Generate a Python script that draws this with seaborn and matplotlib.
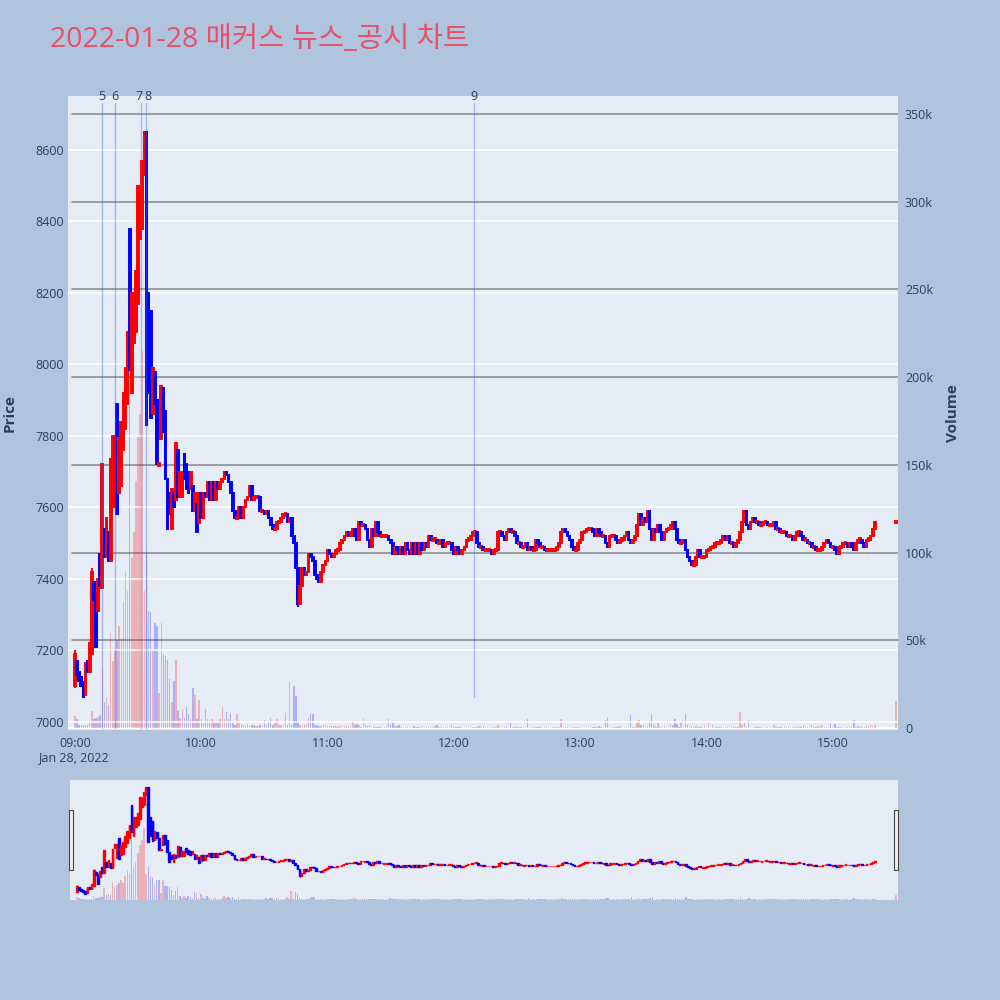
import numpy as np
import pandas as pd
import matplotlib
matplotlib.use("Agg")
import matplotlib.pyplot as plt
import matplotlib.transforms as mtransforms
from matplotlib.patches import Rectangle
import seaborn as sns

# ---- data (1-minute candles, minutes after 09:00) ----
title = "2022-01-28 매커스 뉴스_공시 차트"

early_open = [
    7100, 7170, 7140, 7125, 7110, 7075, 7170, 7140, 7190, 7390,
    7360, 7310, 7470, 7375, 7540, 7460, 7530, 7450, 7740, 7600,
    7890, 7640, 7660, 7760, 7820, 7890, 8380, 7920, 8060, 8090,
    8170, 8350, 8380, 8530, 8650, 8200, 8150, 7860, 7980, 7900,
    7720, 7790, 7935, 7870, 7680, 7640, 7540, 7640, 7620, 7760,
    7630, 7630, 7750, 7720, 7700, 7650, 7660, 7590, 7610, 7555,
]
early_close = [
    7190, 7130, 7115, 7100, 7070, 7165, 7140, 7220, 7420, 7340,
    7210, 7400, 7380, 7720, 7460, 7570, 7450, 7735, 7800, 7800,
    7580, 7795, 7840, 7920, 7990, 8090, 7985, 8200, 8200, 8260,
    8500, 8480, 8570, 8650, 7830, 7920, 7850, 7990, 7890, 7720,
    7720, 7940, 7810, 7680, 7540, 7580, 7650, 7600, 7780, 7630,
    7700, 7700, 7680, 7650, 7640, 7700, 7590, 7640, 7530, 7640,
]
# from 10:00 on, each candle opens at the previous close
late_close = [
    7570, 7640, 7630, 7670, 7620, 7670, 7620, 7670, 7650, 7670,
    7680, 7700, 7690, 7670, 7640, 7590, 7570, 7570, 7600, 7570,
    7600, 7620, 7630, 7660, 7620, 7630, 7630, 7630, 7590, 7590,
    7580, 7590, 7570, 7550, 7540, 7540, 7560, 7560, 7570, 7580,
    7580, 7560, 7570, 7520, 7500, 7430, 7330, 7380, 7430, 7410,
    7420, 7470, 7460, 7450, 7410, 7400, 7390, 7420, 7440, 7450,
    7480, 7470, 7460, 7470, 7480, 7480, 7500, 7510, 7520, 7530,
    7520, 7530, 7540, 7520, 7510, 7560, 7550, 7550, 7540, 7510,
    7490, 7540, 7520, 7560, 7530, 7520, 7520, 7520, 7520, 7510,
    7500, 7470, 7490, 7480, 7470, 7490, 7470, 7500, 7480, 7470,
    7500, 7470, 7500, 7470,
    7500, 7480, 7500, 7490, 7520, 7510, 7510, 7510, 7500, 7500,
    7510, 7490, 7500, 7500, 7500, 7480, 7470, 7490, 7480, 7470,
    7480, 7490, 7510, 7510, 7520, 7530, 7530, 7500, 7490, 7490,
    7480, 7480, 7480, 7480, 7470, 7480, 7480, 7530, 7530, 7520,
    7510, 7530, 7540, 7530, 7530, 7520, 7500, 7500, 7490, 7490,
    7500, 7480, 7490, 7480, 7480, 7510, 7500, 7490, 7490, 7480,
    7480, 7480, 7480, 7480, 7480, 7490, 7500, 7530, 7540, 7530,
    7520, 7510, 7490, 7480, 7480, 7500, 7510, 7530, 7530, 7540,
    7540, 7540, 7530, 7520, 7540, 7530, 7520, 7520, 7500, 7490,
    7520, 7520, 7520, 7510, 7500, 7510, 7510, 7520, 7530, 7510,
    7500, 7510, 7520, 7550, 7580, 7550, 7570, 7560, 7590, 7540,
    7510, 7540, 7530, 7550,
    7530, 7510, 7530, 7540, 7540, 7550, 7560, 7540, 7510, 7500,
    7500, 7510, 7480, 7460, 7450, 7440, 7440, 7460, 7480, 7460,
    7460, 7460, 7480, 7480, 7490, 7490, 7500, 7500, 7500, 7510,
    7520, 7510, 7520, 7500, 7500, 7490, 7500, 7510, 7530, 7560,
    7590, 7550, 7540, 7560, 7570, 7560, 7560, 7550, 7550, 7560,
    7560, 7550, 7550, 7550, 7560, 7540, 7540, 7530, 7530, 7530,
    7520, 7520, 7520, 7510, 7520, 7530, 7530, 7520, 7510, 7510,
    7500, 7500, 7490, 7490, 7480, 7480, 7480, 7490, 7500, 7510,
    7500, 7490, 7490, 7480, 7470, 7490, 7490, 7500, 7500, 7490,
    7500, 7490, 7480, 7500, 7510, 7510, 7500, 7490, 7510, 7510,
    7520, 7540, 7560,
]
closing_minute = 390
closing_price = 7560

# volume in thousands, one per minute 09:00..15:20
volume_k = [
    7, 5, 1.5, 1.7, 2, 1.7, 2, 3, 10, 5,
    6, 6.5, 7.5, 35, 15, 17, 13, 54, 38, 44,
    50, 58, 51, 72, 89, 78, 250, 97, 112, 141,
    166, 179, 215, 78, 101, 67, 66, 44, 60, 58,
    20, 60, 42, 41, 39, 28, 15, 27, 39, 10,
    6, 11, 6, 12, 8, 5, 23, 19, 5, 16,
    5, 3, 11, 5, 3, 5, 4, 3, 3, 5,
    12, 5, 9, 5, 8, 3, 2, 8, 3, 1.5,
    2, 1, 2.5, 1, 1.5, 2, 1, 1.2, 1.7, 1,
    4.5, 2, 3.6, 5.5, 2, 3.5, 5, 2, 1.5, 1,
    8.4, 2, 26, 1.5, 24, 18, 3.5, 1.5, 1.5, 1.5,
    2.5, 5.5, 8, 8, 1.5, 1.5, 1, 1, 1.5, 2,
    1, 1, 1.2, 1.2, 1.2, 0.8, 1.2, 1, 1.2, 1.2,
    0.8, 1, 4, 2, 2.5, 2, 0.8, 6, 2, 1.2,
    1.2, 0.8, 0.8, 0.8, 0.8, 0.6, 0.8, 0.8, 1, 5,
    1.5, 3.4, 1, 1, 2, 0.8, 0.8, 0.6, 0.6, 0.8,
    0.8, 1, 0.6, 0.8, 0.8, 1, 0.6, 0.6, 0.8, 0.6,
    0.8, 1.2, 1.5, 0.6, 0.6, 0.8, 0.6, 0.8, 0.6, 1.5,
    0.8, 0.6, 0.6, 0.8, 0.6, 0.6, 0.8, 0.6, 0.8, 0.6,
    0.6, 0.8, 1, 0.6, 1, 0.6, 0.6, 0.8, 0.6, 0.6,
    0.8, 1.5, 0.6, 0.6, 0.6, 1, 0.6, 2.7, 0.8, 0.6,
    0.6, 0.6, 0.6, 0.8, 0.6, 5, 0.6, 0.6, 0.6, 0.6,
    0.6, 0.6, 0.6, 0.6, 0.6, 0.6, 0.6, 0.6, 0.6, 0.6,
    0.6, 5, 0.6, 0.8, 0.6, 0.6, 0.6, 0.6, 0.6, 0.6,
    0.6, 0.6, 0.6, 0.6, 0.6, 0.6, 0.6, 0.6, 0.6, 1.2,
    0.6, 0.6, 4.5, 5.5, 0.6, 0.6, 0.6, 0.6, 0.6, 1,
    0.6, 0.6, 0.6, 0.6, 7.4, 0.6, 0.8, 4, 4.5, 1.5,
    1.5, 0.6, 1.5, 4, 8, 1.5, 0.6, 3, 0.6, 0.6,
    1, 0.6, 0.6, 1.5, 2, 5, 2.5, 0.6, 3.6, 0.6,
    7.8, 1.5, 0.6, 1, 0.6, 1, 0.6, 0.6, 0.6, 2,
    0.6, 3.2, 0.6, 1.5, 0.6, 0.6, 0.6, 0.6, 0.6, 0.6,
    0.6, 0.6, 1, 0.6, 0.6, 0.6, 9.3, 1.5, 2.7, 0.6,
    4.5, 0.6, 0.6, 0.6, 1, 0.6, 0.6, 0.6, 0.6, 0.6,
    0.6, 0.6, 1.5, 0.6, 0.6, 0.6, 0.6, 1, 0.6, 0.6,
    0.6, 0.6, 0.6, 0.6, 0.6, 0.6, 1, 0.6, 0.6, 0.6,
    1.5, 0.6, 0.6, 1, 0.6, 2, 0.6, 0.6, 0.6, 2.5,
    0.6, 2.5, 0.6, 0.6, 0.6, 0.6, 0.6, 0.6, 1, 0.6,
    4.5, 0.6, 1, 0.6, 0.6, 0.6, 2, 1, 1.5, 1,
    1.5,
]
closing_volume_k = 15.4

# a few wicks that stick out of the bodies: minute -> (low, high)
wicks = {0: (7095, 7200), 8: (7190, 7430), 106: (7320, 7430)}

news_minutes = [12.8, 19.0, 31.4, 33.7, 189.6]
news_labels = ["5", "6", "7", "8", "9"]

price_ticks = [7000, 7200, 7400, 7600, 7800, 8000, 8200, 8400, 8600]
vol_ticks = [0, 50000, 100000, 150000, 200000, 250000, 300000, 350000]
vol_tick_labels = ["0", "50k", "100k", "150k", "200k", "250k", "300k", "350k"]
time_ticks = [0, 60, 120, 180, 240, 300, 360]
time_labels = ["09:00", "10:00", "11:00", "12:00", "13:00", "14:00", "15:00"]

# ---- build table ----
late_open = [early_close[-1]] + late_close[:-1]
df = pd.DataFrame({
    "minute": list(range(len(early_open) + len(late_close))) + [closing_minute],
    "open": early_open + late_open + [closing_price],
    "close": early_close + late_close + [closing_price],
    "volume": [v * 1000 for v in volume_k + [closing_volume_k]],
})
df["low"] = df[["open", "close"]].min(axis=1)
df["high"] = df[["open", "close"]].max(axis=1)
for m, (lo, hi) in wicks.items():
    df.loc[df["minute"] == m, ["low", "high"]] = [lo, hi]
df["direction"] = np.where(df["close"] >= df["open"], "up", "down")

UP = "#ff0000"
DOWN = "#0000ff"
palette = {"up": UP, "down": DOWN}
TXT = "#2a3f5f"
PLOT_BG = "#e5ecf6"

sns.set_theme(style="darkgrid")
plt.rcParams["font.family"] = ["Open Sans", "Noto Sans CJK KR", "DejaVu Sans"]


def draw_candles(ax, data, body_w, lw, min_h):
    lo = data[["open", "close"]].min(axis=1).to_numpy()
    hi = data[["open", "close"]].max(axis=1).to_numpy()
    colors = [palette[d] for d in data["direction"]]
    ax.vlines(data["minute"], data["low"], data["high"], colors=colors,
              linewidth=lw, zorder=3)
    h = np.maximum(hi - lo, min_h)
    bottom = np.where(hi - lo < min_h, (lo + hi) / 2 - min_h / 2, lo)
    ax.bar(data["minute"], h, bottom=bottom, width=body_w, color=colors,
           edgecolor=colors, linewidth=lw, zorder=4)


def draw_volume(ax, data, alpha):
    sns.barplot(data=data, x="minute", y="volume", hue="direction",
                palette=palette, hue_order=["up", "down"], native_scale=True,
                dodge=False, width=0.7, saturation=1, alpha=alpha,
                linewidth=0, legend=False, errorbar=None, ax=ax)
    ax.set_xlabel("")
    ax.set_ylabel("")


XLIM = (-3.3, 391)
PLIM = (6977, 8751)
VLIM = (-1100, 360300)

fig = plt.figure(figsize=(10, 10), dpi=100, facecolor="#b0c4de")

# ---- main chart ----
axp = fig.add_axes([0.068, 0.270, 0.830, 0.634])
axv = axp.twinx()
axv.set_zorder(1)
axp.set_zorder(2)
axp.patch.set_visible(False)
axv.patch.set_visible(True)
axv.set_facecolor(PLOT_BG)

draw_volume(axv, df, 0.25)
draw_candles(axp, df, 0.8, 1.4, 6)

axp.set_xlim(*XLIM)
axp.set_ylim(*PLIM)
axv.set_ylim(*VLIM)

axp.set_yticks(price_ticks)
axp.set_yticklabels([str(p) for p in price_ticks])
axv.set_yticks(vol_ticks)
axv.set_yticklabels(vol_tick_labels)
axp.set_xticks(time_ticks)
axp.set_xticklabels(time_labels)

axp.grid(False)
axv.grid(False)
for p in price_ticks:
    axp.axhline(p, color="white", linewidth=1.1, zorder=0.5)
for v in vol_ticks[1:]:
    axv.axhline(v, xmin=0.005, color="#8e8e8e", linewidth=1.2, zorder=0.5)
axv.axhline(0, color="white", linewidth=1.5, zorder=0.5)

for a in (axp, axv):
    for s in a.spines.values():
        s.set_visible(False)
axp.tick_params(axis="y", length=0, pad=3, labelsize=9, labelcolor=TXT)
axp.tick_params(axis="x", length=0, pad=5, labelsize=9, labelcolor=TXT)
axv.tick_params(axis="y", length=0, pad=5, labelsize=9, labelcolor=TXT)
axp.set_xlabel("")
axp.set_ylabel("")

# news markers
blend = mtransforms.blended_transform_factory(axp.transData, axp.transAxes)
for m, lab in zip(news_minutes, news_labels):
    ymin = 0.052 if lab == "9" else 0.003
    axp.axvline(m, ymin=ymin, ymax=0.989, color="royalblue", alpha=0.4,
                linewidth=1.0, zorder=6)
    ha = {"7": "right", "8": "left"}.get(lab, "center")
    xt = m + {"7": 0.6, "8": -0.6}.get(lab, 0)
    axp.text(xt, 1.0, lab, transform=blend, ha=ha, va="center",
             fontsize=9, color=TXT, zorder=7)

fig.text(0.073, 0.242, "Jan 28, 2022", ha="center", va="center",
         fontsize=9, color=TXT)
fig.text(0.010, 0.587, "Price", rotation=90, ha="center", va="center",
         fontsize=11, fontweight="bold", color=TXT)
fig.text(0.953, 0.587, "Volume", rotation=90, ha="center", va="center",
         fontsize=11, fontweight="bold", color=TXT)
fig.text(0.050, 0.960, title, ha="left", va="center", fontsize=20.5,
         color="#e8506a")

# ---- range slider ----
sxp = fig.add_axes([0.070, 0.100, 0.828, 0.120])
sxv = sxp.twinx()
sxv.set_zorder(1)
sxp.set_zorder(2)
sxp.patch.set_visible(False)
sxv.patch.set_visible(True)
sxv.set_facecolor(PLOT_BG)
draw_volume(sxv, df, 0.25)
draw_candles(sxp, df, 0.8, 1.0, 8)
sxp.set_xlim(*XLIM)
sxp.set_ylim(*PLIM)
sxv.set_ylim(*VLIM)
for a in (sxp, sxv):
    a.grid(False)
    a.set_xticks([])
    a.set_yticks([])
    a.set_xlabel("")
    a.set_ylabel("")
    for s in a.spines.values():
        s.set_visible(False)

for hx in (0.069, 0.894):
    fig.patches.append(Rectangle((hx, 0.130), 0.004, 0.060,
                                 transform=fig.transFigure, facecolor="#f2f2f2",
                                 edgecolor="#444444", linewidth=0.8, zorder=10))

fig.savefig("out.png", dpi=100, facecolor=fig.get_facecolor())
